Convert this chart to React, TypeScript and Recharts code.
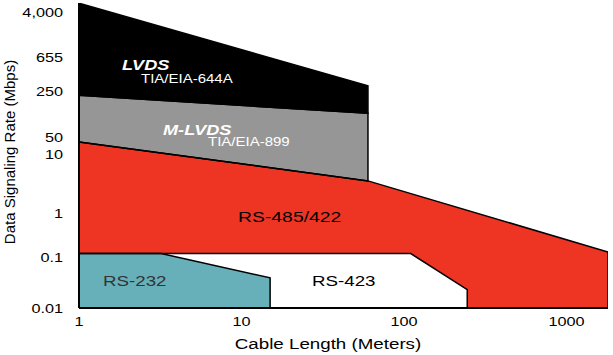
import { ComposedChart, Area, Line, XAxis, YAxis } from "recharts";

// rate axis ticks (the source figure spaces them by hand, not as a true log scale)
const Y_TICKS = [0.01, 0.1, 1, 10, 50, 250, 655, 4000];
const Y_TICK_LABELS = ["0.01", "0.1", "1", "10", "50", "250", "655", "4,000"];
const X_TICKS = [1, 10, 100, 1000];

// cable length (m) vs rate (Mbps), lower and upper edge of each region
const LVDS = [
  { m: 1, lo: 215, hi: 5700 },
  { m: 60, lo: 115, hi: 290 },
];
const M_LVDS = [
  { m: 1, lo: 31, hi: 215 },
  { m: 60, lo: 3.5, hi: 115 },
];
const RS485 = [
  { m: 1, lo: 0.01, hi: 31 },
  { m: 60, lo: 0.01, hi: 3.5 },
  { m: 1800, lo: 0.01, hi: 0.13 },
];
const RS423 = [
  { m: 1, lo: 0.01, hi: 0.12 },
  { m: 110, lo: 0.01, hi: 0.12 },
  { m: 245, lo: 0.01, hi: 0.023 },
];
const RS232 = [
  { m: 1, lo: 0.01, hi: 0.12 },
  { m: 3.2, lo: 0.01, hi: 0.12 },
  { m: 15, lo: 0.01, hi: 0.039 },
];

// axis warp: where each tick sits on the (linear) plot axis
const Y_TICK_POS = [0, 51, 95, 154, 171, 217, 251, 296];
const Y_TOP = 305;

const FONT = '"Liberation Sans", Arial, Helvetica, sans-serif';
const SX = 1.25; // the source image is stretched horizontally

function warp(v: number) {
  const logs = Y_TICKS.map(Math.log10);
  const lv = Math.log10(v);
  let i = 0;
  while (i < logs.length - 2 && lv > logs[i + 1]) i++;
  const t = (lv - logs[i]) / (logs[i + 1] - logs[i]);
  return Y_TICK_POS[i] + t * (Y_TICK_POS[i + 1] - Y_TICK_POS[i]);
}

type Pt = { m: number; lo: number; hi: number };

function outline(pts: Pt[]) {
  return [
    ...pts.map((p) => ({ m: p.m, v: p.hi })),
    ...pts
      .slice()
      .reverse()
      .map((p) => ({ m: p.m, v: p.lo })),
    { m: pts[0].m, v: pts[0].hi },
  ];
}

const REGIONS = [
  { key: "rs485", data: RS485, fill: "#EE3524" },
  { key: "rs423", data: RS423, fill: "#FFFFFF" },
  { key: "rs232", data: RS232, fill: "#67B0BA" },
  { key: "mlvds", data: M_LVDS, fill: "#969696" },
  { key: "lvds", data: LVDS, fill: "#000000" },
];

function SText({
  x,
  y,
  size,
  anchor = "start",
  fill = "#000",
  weight,
  italic,
  dy,
  children,
}: any) {
  return (
    <text
      transform={`translate(${x},${y}) scale(${SX},1)`}
      textAnchor={anchor}
      fontSize={size}
      fontFamily={FONT}
      fontWeight={weight}
      fontStyle={italic ? "italic" : undefined}
      fill={fill}
      dy={dy}
    >
      {children}
    </text>
  );
}

function YTick({ x, y, payload }: any) {
  const i = Y_TICKS.findIndex((v) => Math.abs(warp(v) - payload.value) < 1e-6);
  return (
    <SText x={x} y={y} size={13} anchor="end" dy="0.35em">
      {Y_TICK_LABELS[i]}
    </SText>
  );
}

function XTick({ x, y, payload }: any) {
  return (
    <SText x={x} y={y} size={13} anchor="middle" dy="0.71em">
      {payload.value}
    </SText>
  );
}

export default function App() {
  return (
    <div
      style={{
        position: "absolute",
        left: 0,
        top: 0,
        width: 613,
        height: 355,
        background: "#fff",
      }}
    >
      <ComposedChart
        width={613}
        height={355}
        margin={{ top: 3, right: 5, bottom: 0, left: 0 }}
      >
        <XAxis
          type="number"
          dataKey="m"
          scale="log"
          domain={[1, 1800]}
          ticks={X_TICKS}
          interval={0}
          allowDataOverflow
          height={47}
          axisLine={{ stroke: "#000", strokeWidth: 2 }}
          tickLine={false}
          tickMargin={3}
          tick={XTick}
        />
        <YAxis
          type="number"
          domain={[0, Y_TOP]}
          ticks={Y_TICKS.map(warp)}
          interval={0}
          allowDataOverflow
          width={79}
          axisLine={{ stroke: "#000", strokeWidth: 2 }}
          tickLine={false}
          tickMargin={10}
          tick={YTick}
        />
        {REGIONS.map((r) => (
          <Area
            key={r.key}
            data={r.data}
            dataKey={(d: Pt) => [warp(d.lo), warp(d.hi)]}
            type="linear"
            stroke="none"
            fill={r.fill}
            fillOpacity={1}
            dot={false}
            activeDot={false}
            isAnimationActive={false}
          />
        ))}
        {REGIONS.map((r) => (
          <Line
            key={r.key + "-edge"}
            data={outline(r.data)}
            dataKey={(d: { v: number }) => warp(d.v)}
            type="linear"
            stroke="#000"
            strokeWidth={1.5}
            dot={false}
            activeDot={false}
            isAnimationActive={false}
          />
        ))}
      </ComposedChart>
      <svg
        width={613}
        height={355}
        style={{ position: "absolute", left: 0, top: 0, pointerEvents: "none" }}
      >
        <text
          transform="translate(14.5,152) rotate(-90)"
          textAnchor="middle"
          fontSize={15}
          fontFamily={FONT}
          fill="#000"
        >
          Data Signaling Rate (Mbps)
        </text>
        <SText x={328} y={349} size={15} anchor="middle">
          Cable Length (Meters)
        </SText>
        <SText x={122} y={70} size={14.5} fill="#fff" weight="bold" italic>
          LVDS
        </SText>
        <SText x={141} y={83} size={12} fill="#fff">
          TIA/EIA-644A
        </SText>
        <SText x={163} y={135} size={14.5} fill="#fff" weight="bold" italic>
          M-LVDS
        </SText>
        <SText x={208} y={146} size={12} fill="#fff">
          TIA/EIA-899
        </SText>
        <SText x={238} y={221.5} size={15.5}>
          RS-485/422
        </SText>
        <SText x={103} y={285.5} size={15} fill="#333">
          RS-232
        </SText>
        <SText x={312} y={285.5} size={15}>
          RS-423
        </SText>
      </svg>
    </div>
  );
}
